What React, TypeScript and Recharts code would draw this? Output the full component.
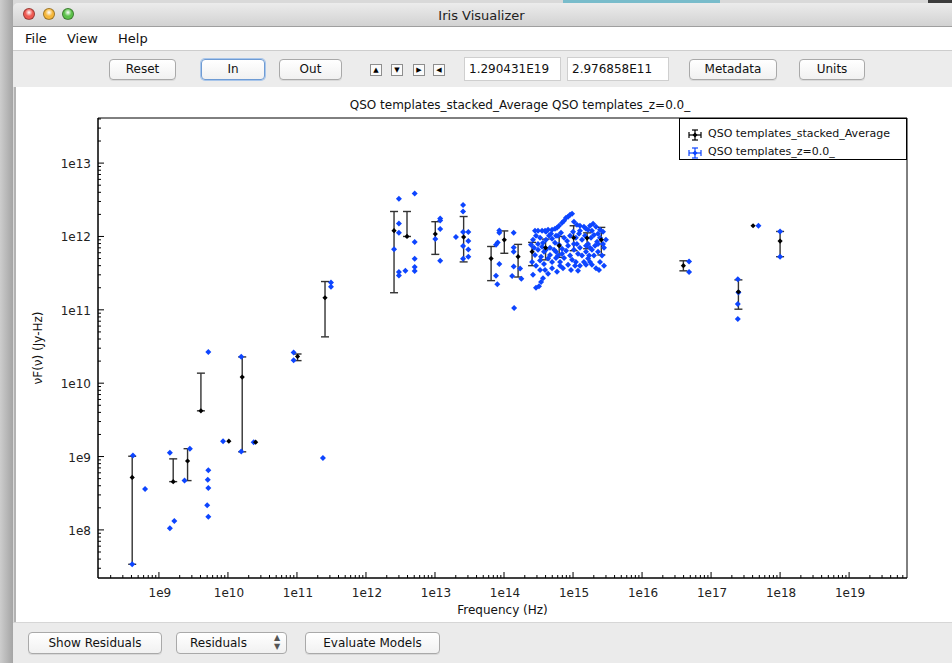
import React from 'react';
import { ScatterChart, Scatter, XAxis, YAxis, ErrorBar, ReferenceArea, Legend } from 'recharts';

// QSO templates_stacked_Average: frequency (Hz), flux (Jy-Hz), bottom and top of each error bar
const AVG_NU = [4.1e8, 1.61e9, 2.6e9, 4.06e9, 1.03e10, 1.61e10, 2.52e10, 1.02e11, 2.55e11, 2.55e12, 3.93e12, 1.01e13, 2.6e13,
  6.5e13, 1.01e14, 1.6e14, 2.55e14, 4.0e14, 6.3e14, 1.02e15, 1.6e15, 2.57e15, 3.97e16, 2.49e17, 4.06e17, 1.0e18];
const AVG_FLUX = [5.2e8, 4.55e8, 8.7e8, 4.2e9, 1.62e9, 1.21e10, 1.57e9, 2.31e10, 1.46e11, 1.2e12, 1.0e12, 1.08e12, 9.8e11,
  5.0e11, 9.0e11, 5.3e11, 6.2e11, 7.0e11, 7.5e11, 9.6e11, 9.5e11, 9.0e11, 4.0e11, 1.76e11, 1.4e12, 8.65e11];
const AVG_LOW = [3.4e7, 4.55e8, 4.7e8, 4.2e9, 1.62e9, 1.16e9, 1.57e9, 2.03e10, 4.28e10, 1.71e11, 1.0e12, 5.7e11, 4.5e11,
  2.5e11, 5.9e11, 2.8e11, 4.0e11, 4.8e11, 5.2e11, 6.4e11, 6.8e11, 5.6e11, 3.4e11, 1.02e11, 1.4e12, 5.3e11];
const AVG_HIGH = [1.01e9, 9.3e8, 1.28e9, 1.37e10, 1.62e9, 2.28e10, 1.57e9, 2.5e10, 2.43e11, 2.19e12, 2.19e12, 1.59e12, 1.87e12,
  7.3e11, 1.19e12, 7.8e11, 8.3e11, 9.2e11, 1.0e12, 1.4e12, 1.12e12, 1.33e12, 4.66e11, 2.56e11, 1.4e12, 1.17e12];

// QSO templates_z=0.0_, split by band
const RADIO_NU = [4.2e8, 4.1e8, 6.3e8, 1.44e9, 1.67e9, 1.44e9, 2.35e9, 2.81e9, 5.2e9, 5.2e9, 5.1e9, 5.2e9, 5.0e9, 5.2e9,
  8.5e9, 1.56e10, 1.56e10, 2.36e10, 8.95e10, 8.95e10, 2.38e11, 3.11e11, 3.11e11];
const RADIO_FLUX = [1.03e9, 3.4e7, 3.6e8, 1.13e9, 1.32e8, 1.05e8, 4.7e8, 1.28e9, 2.67e10, 6.5e8, 4.84e8, 3.73e8, 2.17e8, 1.51e8,
  1.62e9, 2.29e10, 1.17e9, 1.57e9, 2.61e10, 2.06e10, 9.55e8, 2.36e11, 2.06e11];

const IR_NU = [3.0e12, 5.08e12, 3.0e12, 3.0e12, 2.55e12, 3.0e12, 3.0e12, 3.72e12, 5.08e12, 5.08e12, 5.08e12, 5.08e12,
  1.19e13, 1.19e13, 1.19e13, 1.01e13, 1.19e13, 2.01e13, 2.55e13, 2.55e13, 2.55e13, 3.04e13, 3.04e13, 2.55e13, 3.04e13, 3.04e13, 2.55e13,
  8.55e13, 8.55e13, 8.1e13, 7.65e13, 8.55e13, 7.65e13, 8.0e13, 1.38e14, 1.38e14, 1.38e14, 1.38e14, 1.31e14, 1.71e14, 1.78e14, 1.4e14];
const IR_FLUX = [3.27e12, 3.86e12, 1.5e12, 1.12e12, 6.7e11, 3.27e11, 2.94e11, 3.4e11, 8.4e11, 4.96e11, 3.83e11, 3.37e11,
  1.76e12, 1.65e12, 1.26e12, 9.2e11, 4.66e11, 9.8e11, 2.68e12, 2.19e12, 1.15e12, 1.15e12, 8.65e11, 7.4e11, 6.65e11, 5.3e11, 4.96e11,
  1.21e12, 1.12e12, 8.3e11, 7.7e11, 4.2e11, 2.91e11, 2.24e11, 1.12e12, 7.08e11, 6.2e11, 3.9e11, 2.9e11, 3.66e11, 2.65e11, 1.06e11];

const OPT_NU = [2.81e14, 3.11e14, 3.56e14, 3.93e14, 4.35e14, 4.97e14, 5.48e14, 5.86e14, 6.27e14, 6.93e14, 7.41e14, 7.92e14,
  8.47e14, 9.06e14, 9.68e14, 1.03e15, 1.14e15, 1.26e15, 1.44e15, 1.65e15, 1.76e15, 1.95e15, 2.15e15, 2.46e15, 2.72e15,
  2.46e14, 2.63e14, 2.91e14, 3.33e14, 3.67e14, 4.06e14, 4.49e14, 4.97e14, 5.48e14, 6.07e14, 6.7e14, 7.41e14, 8.19e14,
  9.06e14, 1.0e15, 1.1e15, 1.22e15, 1.35e15, 1.49e15, 1.65e15, 1.82e15, 2.01e15, 2.23e15, 2.46e15, 2.72e15, 3.0e15,
  3.11e14, 3.8e14, 4.64e14, 5.67e14, 6.93e14, 8.47e14, 1.03e15, 1.26e15, 1.54e15, 1.88e15, 2.3e15, 2.81e15,
  2.81e14, 3.44e14, 6.27e14, 1.14e15, 1.71e15, 2.08e15,
  2.55e14, 2.91e14, 3.33e14, 3.8e14, 4.35e14, 4.97e14, 5.67e14, 6.49e14, 7.41e14, 8.47e14, 9.68e14, 1.1e15, 1.26e15,
  1.44e15, 1.65e15, 1.88e15, 2.15e15, 2.46e15, 2.81e15, 2.38e15, 1.54e15,
  3.93e14, 4.35e14, 3.67e14, 3.44e14, 3.21e14, 2.91e14, 4.97e14, 5.86e14, 7.16e14, 9.35e14, 1.18e15,
  2.72e14, 3.11e14, 3.56e14, 4.06e14, 4.64e14, 5.31e14, 6.07e14, 6.93e14, 7.92e14, 9.06e14, 1.03e15, 1.18e15, 1.35e15,
  1.54e15, 1.76e15, 2.01e15, 2.3e15, 2.63e15, 4.06e14, 4.8e14, 5.67e14, 1.26e15, 1.54e15, 1.88e15, 2.3e15,
  3.33e14, 2.63e14, 6.49e14, 1.07e15, 1.76e15];
const OPT_FLUX = [1.2e12, 1.2e12, 1.2e12, 1.2e12, 1.23e12, 1.23e12, 1.27e12, 1.31e12, 1.4e12, 1.54e12, 1.64e12, 1.8e12,
  1.86e12, 1.98e12, 2.04e12, 1.59e12, 1.44e12, 1.4e12, 1.36e12, 1.23e12, 1.4e12, 1.49e12, 1.36e12, 1.23e12, 1.16e12,
  7.7e11, 9.0e11, 1.02e12, 9.6e11, 8.2e11, 9.0e11, 1.02e12, 9.3e11, 8.2e11, 1.02e12, 1.12e12, 9.6e11, 8.7e11,
  1.02e12, 1.16e12, 9.6e11, 1.09e12, 9.0e11, 1.02e12, 7.9e11, 9.6e11, 1.05e12, 8.5e11, 9.6e11, 7.9e11, 9.0e11,
  6.6e11, 6.2e11, 7.0e11, 6.2e11, 6.8e11, 7.5e11, 6.6e11, 7.0e11, 6.2e11, 6.6e11, 6.2e11, 7.0e11,
  5.6e11, 5.3e11, 7.7e11, 7.9e11, 5.5e11, 7.5e11,
  4.5e11, 4.0e11, 4.7e11, 4.2e11, 5.0e11, 4.5e11, 5.1e11, 4.5e11, 5.1e11, 4.1e11, 4.8e11, 4.5e11, 4.0e11,
  4.5e11, 5.0e11, 4.1e11, 3.7e11, 4.5e11, 4.0e11, 3.5e11, 4.1e11,
  3.5e11, 3.1e11, 2.7e11, 2.4e11, 2.1e11, 2.0e11, 3.7e11, 3.3e11, 3.7e11, 3.5e11, 3.4e11,
  7.0e11, 7.9e11, 7.25e11, 6.6e11, 5.6e11, 6.6e11, 5.5e11, 5.8e11, 6.4e11, 5.5e11, 7.9e11, 5.8e11, 5.5e11,
  7.5e11, 7.0e11, 5.5e11, 7.9e11, 5.5e11, 1.16e12, 1.09e12, 1.02e12, 1.2e12, 1.27e12, 1.2e12, 1.09e12,
  3.5e11, 3.0e11, 4.0e11, 4.0e11, 4.5e11];

const XRAY_NU = [4.8e16, 4.8e16, 4.86e17, 2.44e17, 2.49e17, 2.44e17, 2.44e17, 1.0e18, 1.0e18];
const XRAY_FLUX = [4.56e11, 3.27e11, 1.4e12, 2.62e11, 1.72e11, 1.2e11, 7.5e10, 1.17e12, 5.3e11];

const SERIES_NAMES = ['QSO templates_stacked_Average', 'QSO templates_z=0.0_'];
const TITLE = 'QSO templates_stacked_Average QSO templates_z=0.0_';

const X_DOMAIN = [1.31e8, 6.9e19];
const Y_DOMAIN = [2.21e7, 4.12e13];
const X_DECADES = [8, 9, 10, 11, 12, 13, 14, 15, 16, 17, 18, 19];
const Y_DECADES = [7, 8, 9, 10, 11, 12, 13];
const MINOR = [1, 2, 3, 4, 5, 6, 7, 8, 9];

const BLUE = '#0d45ff';
const FONT = "'DejaVu Sans', Verdana, sans-serif";

const logTicks = (decades: number[], domain: number[]) =>
  decades.flatMap(e => MINOR.map(m => m * 10 ** e)).filter(v => v >= domain[0] && v <= domain[1]);

const decade = (v: number) => {
  const e = Math.floor(Math.log10(v) + 1e-9);
  return { e, major: Math.round(v / 10 ** e) === 1 };
};

const avgBars = AVG_NU.map((x, i) => ({ x, y: AVG_FLUX[i], err: [AVG_FLUX[i] - AVG_LOW[i], AVG_HIGH[i] - AVG_FLUX[i]] }))
  .filter(d => d.err[0] > 0 || d.err[1] > 0);
const avgPlain = AVG_NU.map((x, i) => ({ x, y: AVG_FLUX[i], lo: AVG_LOW[i], hi: AVG_HIGH[i] }))
  .filter(d => d.lo === d.y && d.hi === d.y);
const z0 = [
  ...RADIO_NU.map((x, i) => ({ x, y: RADIO_FLUX[i] })),
  ...IR_NU.map((x, i) => ({ x, y: IR_FLUX[i] })),
  ...OPT_NU.map((x, i) => ({ x, y: OPT_FLUX[i] })),
  ...XRAY_NU.map((x, i) => ({ x, y: XRAY_FLUX[i] })),
];

const diamond = (color: string, r: number) => (props: any) => {
  const { cx, cy } = props;
  if (cx == null || cy == null) return <g />;
  return <path d={`M${cx},${cy - r}L${cx + r},${cy}L${cx},${cy + r}L${cx - r},${cy}Z`} fill={color} />;
};

const XTick = (props: any) => {
  const { x, y, payload } = props;
  const { e, major } = decade(payload.value);
  return (
    <g>
      <line x1={x} x2={x} y1={y} y2={y - (major ? 6 : 3)} stroke="#000" />
      {major && (
        <text x={x + 1} y={y + 19} textAnchor="middle" fontSize={12} fontFamily={FONT} fill="#222">{`1e${e}`}</text>
      )}
    </g>
  );
};

const YTick = (props: any) => {
  const { x, y, payload } = props;
  const { e, major } = decade(payload.value);
  return (
    <g>
      <line x1={x} x2={x + (major ? 6 : 3)} y1={y} y2={y} stroke="#000" />
      {major && (
        <text x={x - 7} y={y + 5} textAnchor="end" fontSize={12} fontFamily={FONT} fill="#222">{`1e${e}`}</text>
      )}
    </g>
  );
};

const LegendIcon = ({ color }: { color: string }) => (
  <svg width={16} height={12} style={{ position: 'absolute', left: 7, top: 4 }}>
    <g stroke={color} strokeWidth={1.2}>
      <line x1={2} x2={14} y1={6} y2={6} />
      <line x1={2} x2={2} y1={3} y2={9} />
      <line x1={14} x2={14} y1={3} y2={9} />
      <line x1={8} x2={8} y1={1} y2={11} />
      <line x1={5} x2={11} y1={1} y2={1} />
      <line x1={5} x2={11} y1={11} y2={11} />
    </g>
    <path d="M8,3.5L10.5,6L8,8.5L5.5,6Z" fill={color} />
  </svg>
);

const LegendBox = () => (
  <div style={{ width: 228, height: 42, boxSizing: 'border-box', border: '1px solid #000', background: '#fff',
    fontFamily: FONT, fontSize: 11, color: '#111', paddingTop: 6 }}>
    {SERIES_NAMES.map((name, i) => (
      <div key={name} style={{ position: 'relative', height: 18, lineHeight: '18px', paddingLeft: 28 }}>
        <LegendIcon color={i === 0 ? '#000' : BLUE} />
        {name}
      </div>
    ))}
  </div>
);

const Button = ({ left, top, width, height = 21, label, focus = false }: any) => (
  <div style={{ position: 'absolute', left, top, width, height, boxSizing: 'border-box',
    border: focus ? '1px solid #6e9bd4' : '1px solid #a9a9a9', borderRadius: 4,
    boxShadow: focus ? '0 0 0 1px #a9c6ea' : '0 1px 0 rgba(0,0,0,0.08)',
    background: 'linear-gradient(#ffffff, #f1f1f1)', fontSize: 12, lineHeight: `${height - 2}px`,
    textAlign: 'center', color: '#111' }}>
    {label}
  </div>
);

const Arrow = ({ left, glyph }: any) => (
  <div style={{ position: 'absolute', left, top: 64, width: 12, height: 12, boxSizing: 'border-box',
    border: '1px solid #8e8e8e', background: '#fafafa', fontSize: 7, lineHeight: '10px', textAlign: 'center', color: '#000' }}>
    {glyph}
  </div>
);

const Field = ({ left, width, value }: any) => (
  <div style={{ position: 'absolute', left, top: 57, width, height: 24, boxSizing: 'border-box',
    border: '1px solid #cfcfcf', background: '#fff', fontSize: 12, lineHeight: '22px', paddingLeft: 4, color: '#111' }}>
    {value}
  </div>
);

export default function App() {
  return (
    <div style={{ position: 'absolute', left: 0, top: 0, width: 952, height: 663, overflow: 'hidden',
      background: '#d9d9d9', fontFamily: FONT }}>
      {/* desktop behind the window */}
      <div style={{ position: 'absolute', left: 563, top: 0, width: 157, height: 5, background: '#79bccb' }} />
      <div style={{ position: 'absolute', left: 928, top: 0, width: 24, height: 5, background: '#3c3c3c' }} />
      <div style={{ position: 'absolute', left: 0, top: 0, width: 13, height: 663,
        background: 'linear-gradient(to right, #cdcdcd, #a4a4a4)' }} />

      {/* title bar */}
      <div style={{ position: 'absolute', left: 13, top: 3, width: 939, height: 24, boxSizing: 'border-box',
        background: 'linear-gradient(#ececec, #d2d2d2)', borderBottom: '1px solid #9f9f9f', borderTopLeftRadius: 5 }}>
        {['#ee5a52', '#f5b73b', '#5cc14a'].map((c, i) => (
          <div key={c} style={{ position: 'absolute', left: 10 + i * 19.5, top: 5, width: 12, height: 12, borderRadius: 6,
            background: `radial-gradient(circle at 50% 35%, #fff 0%, ${c} 45%, ${c} 100%)`, border: '1px solid rgba(0,0,0,0.35)',
            boxSizing: 'border-box' }} />
        ))}
        <div style={{ position: 'absolute', left: 0, width: 937, top: 5, textAlign: 'center', fontSize: 13, color: '#222' }}>
          Iris Visualizer
        </div>
      </div>

      {/* menu bar */}
      <div style={{ position: 'absolute', left: 13, top: 27, width: 939, height: 23, background: '#fff', fontSize: 13, color: '#111' }}>
        <span style={{ position: 'absolute', left: 12, top: 4 }}>File</span>
        <span style={{ position: 'absolute', left: 54, top: 4 }}>View</span>
        <span style={{ position: 'absolute', left: 105, top: 4 }}>Help</span>
      </div>

      {/* toolbar */}
      <div style={{ position: 'absolute', left: 13, top: 50, width: 939, height: 37, background: '#ececec',
        borderTop: '1px solid #cdcdcd', boxSizing: 'border-box' }} />
      <Button left={109} top={59} width={67} label="Reset" />
      <Button left={201} top={59} width={64} label="In" focus />
      <Button left={279} top={59} width={63} label="Out" />
      <Arrow left={370} glyph="▲" />
      <Arrow left={391} glyph="▼" />
      <Arrow left={413} glyph="▶" />
      <Arrow left={433} glyph="◀" />
      <Field left={464} width={97} value="1.290431E19" />
      <Field left={567} width={102} value="2.976858E11" />
      <Button left={689} top={59} width={88} label="Metadata" />
      <Button left={799} top={59} width={66} label="Units" />

      {/* plot panel */}
      <div style={{ position: 'absolute', left: 14, top: 87, width: 938, height: 535, background: '#fff',
        borderLeft: '2px solid #b3b3b3', boxSizing: 'border-box' }} />
      <div style={{ position: 'absolute', left: 270, width: 500, top: 98, textAlign: 'center', fontSize: 12, color: '#111' }}>
        {TITLE}
      </div>

      <div style={{ position: 'absolute', left: 16, top: 87 }}>
        <ScatterChart width={936} height={535} margin={{ top: 31, right: 45, bottom: 14, left: 22 }}>
          <XAxis
            type="number"
            dataKey="x"
            scale="log"
            domain={X_DOMAIN}
            allowDataOverflow
            ticks={logTicks(X_DECADES, X_DOMAIN)}
            interval={0}
            tick={<XTick />}
            tickLine={false}
            tickSize={0}
            tickMargin={0}
            axisLine={{ stroke: '#000' }}
            height={30}
            label={{
              content: (p: any) => (
                <text x={p.viewBox.x + p.viewBox.width / 2} y={p.viewBox.y + 36} textAnchor="middle"
                  fontSize={12} fontFamily={FONT} fill="#111">Frequency (Hz)</text>
              ),
            }}
          />
          <YAxis
            type="number"
            dataKey="y"
            scale="log"
            domain={Y_DOMAIN}
            allowDataOverflow
            ticks={logTicks(Y_DECADES, Y_DOMAIN)}
            interval={0}
            tick={<YTick />}
            tickLine={false}
            tickSize={0}
            tickMargin={0}
            axisLine={{ stroke: '#000' }}
            width={60}
            label={{
              content: (p: any) => {
                const cx = p.viewBox.x;
                const cy = p.viewBox.y + p.viewBox.height / 2;
                return (
                  <text x={cx} y={cy} transform={`rotate(-90 ${cx} ${cy})`} textAnchor="middle" dominantBaseline="central"
                    fontSize={12} fontFamily={FONT} fill="#111">νF(ν) (Jy-Hz)</text>
                );
              },
            }}
          />
          <Scatter name={SERIES_NAMES[1]} data={z0} shape={diamond(BLUE, 3)} isAnimationActive={false} />
          <Scatter name={SERIES_NAMES[0]} data={avgBars} shape={diamond('#000', 2.6)} isAnimationActive={false}>
            <ErrorBar dataKey="err" direction="y" width={4} stroke="#333" strokeWidth={1.4} isAnimationActive={false} />
          </Scatter>
          <Scatter name={SERIES_NAMES[0] + ' '} data={avgPlain} shape={diamond('#000', 2.6)} isAnimationActive={false} />
          <ReferenceArea x1={X_DOMAIN[0]} x2={X_DOMAIN[1]} y1={Y_DOMAIN[0]} y2={Y_DOMAIN[1]}
            fill="none" stroke="#000" strokeWidth={1} ifOverflow="visible" />
          <Legend layout="vertical" align="center" verticalAlign="middle" content={<LegendBox />}
            wrapperStyle={{ left: 663, top: 31, width: 228, height: 42 }} />
        </ScatterChart>
      </div>

      {/* bottom bar */}
      <div style={{ position: 'absolute', left: 13, top: 622, width: 939, height: 41, background: '#ebebeb',
        borderTop: '1px solid #d6d6d6', boxSizing: 'border-box' }} />
      <Button left={28} top={632} width={134} height={22} label="Show Residuals" />
      <div style={{ position: 'absolute', left: 176, top: 632, width: 111, height: 22, boxSizing: 'border-box',
        border: '1px solid #a9a9a9', borderRadius: 4, background: 'linear-gradient(#ffffff, #f1f1f1)', fontSize: 12,
        lineHeight: '20px', color: '#111' }}>
        <span style={{ position: 'absolute', left: 13 }}>Residuals</span>
        <span style={{ position: 'absolute', left: 97, top: 0, fontSize: 8, lineHeight: '9px', color: '#555' }}>▲<br />▼</span>
      </div>
      <Button left={305} top={632} width={135} height={22} label="Evaluate Models" />
    </div>
  );
}
